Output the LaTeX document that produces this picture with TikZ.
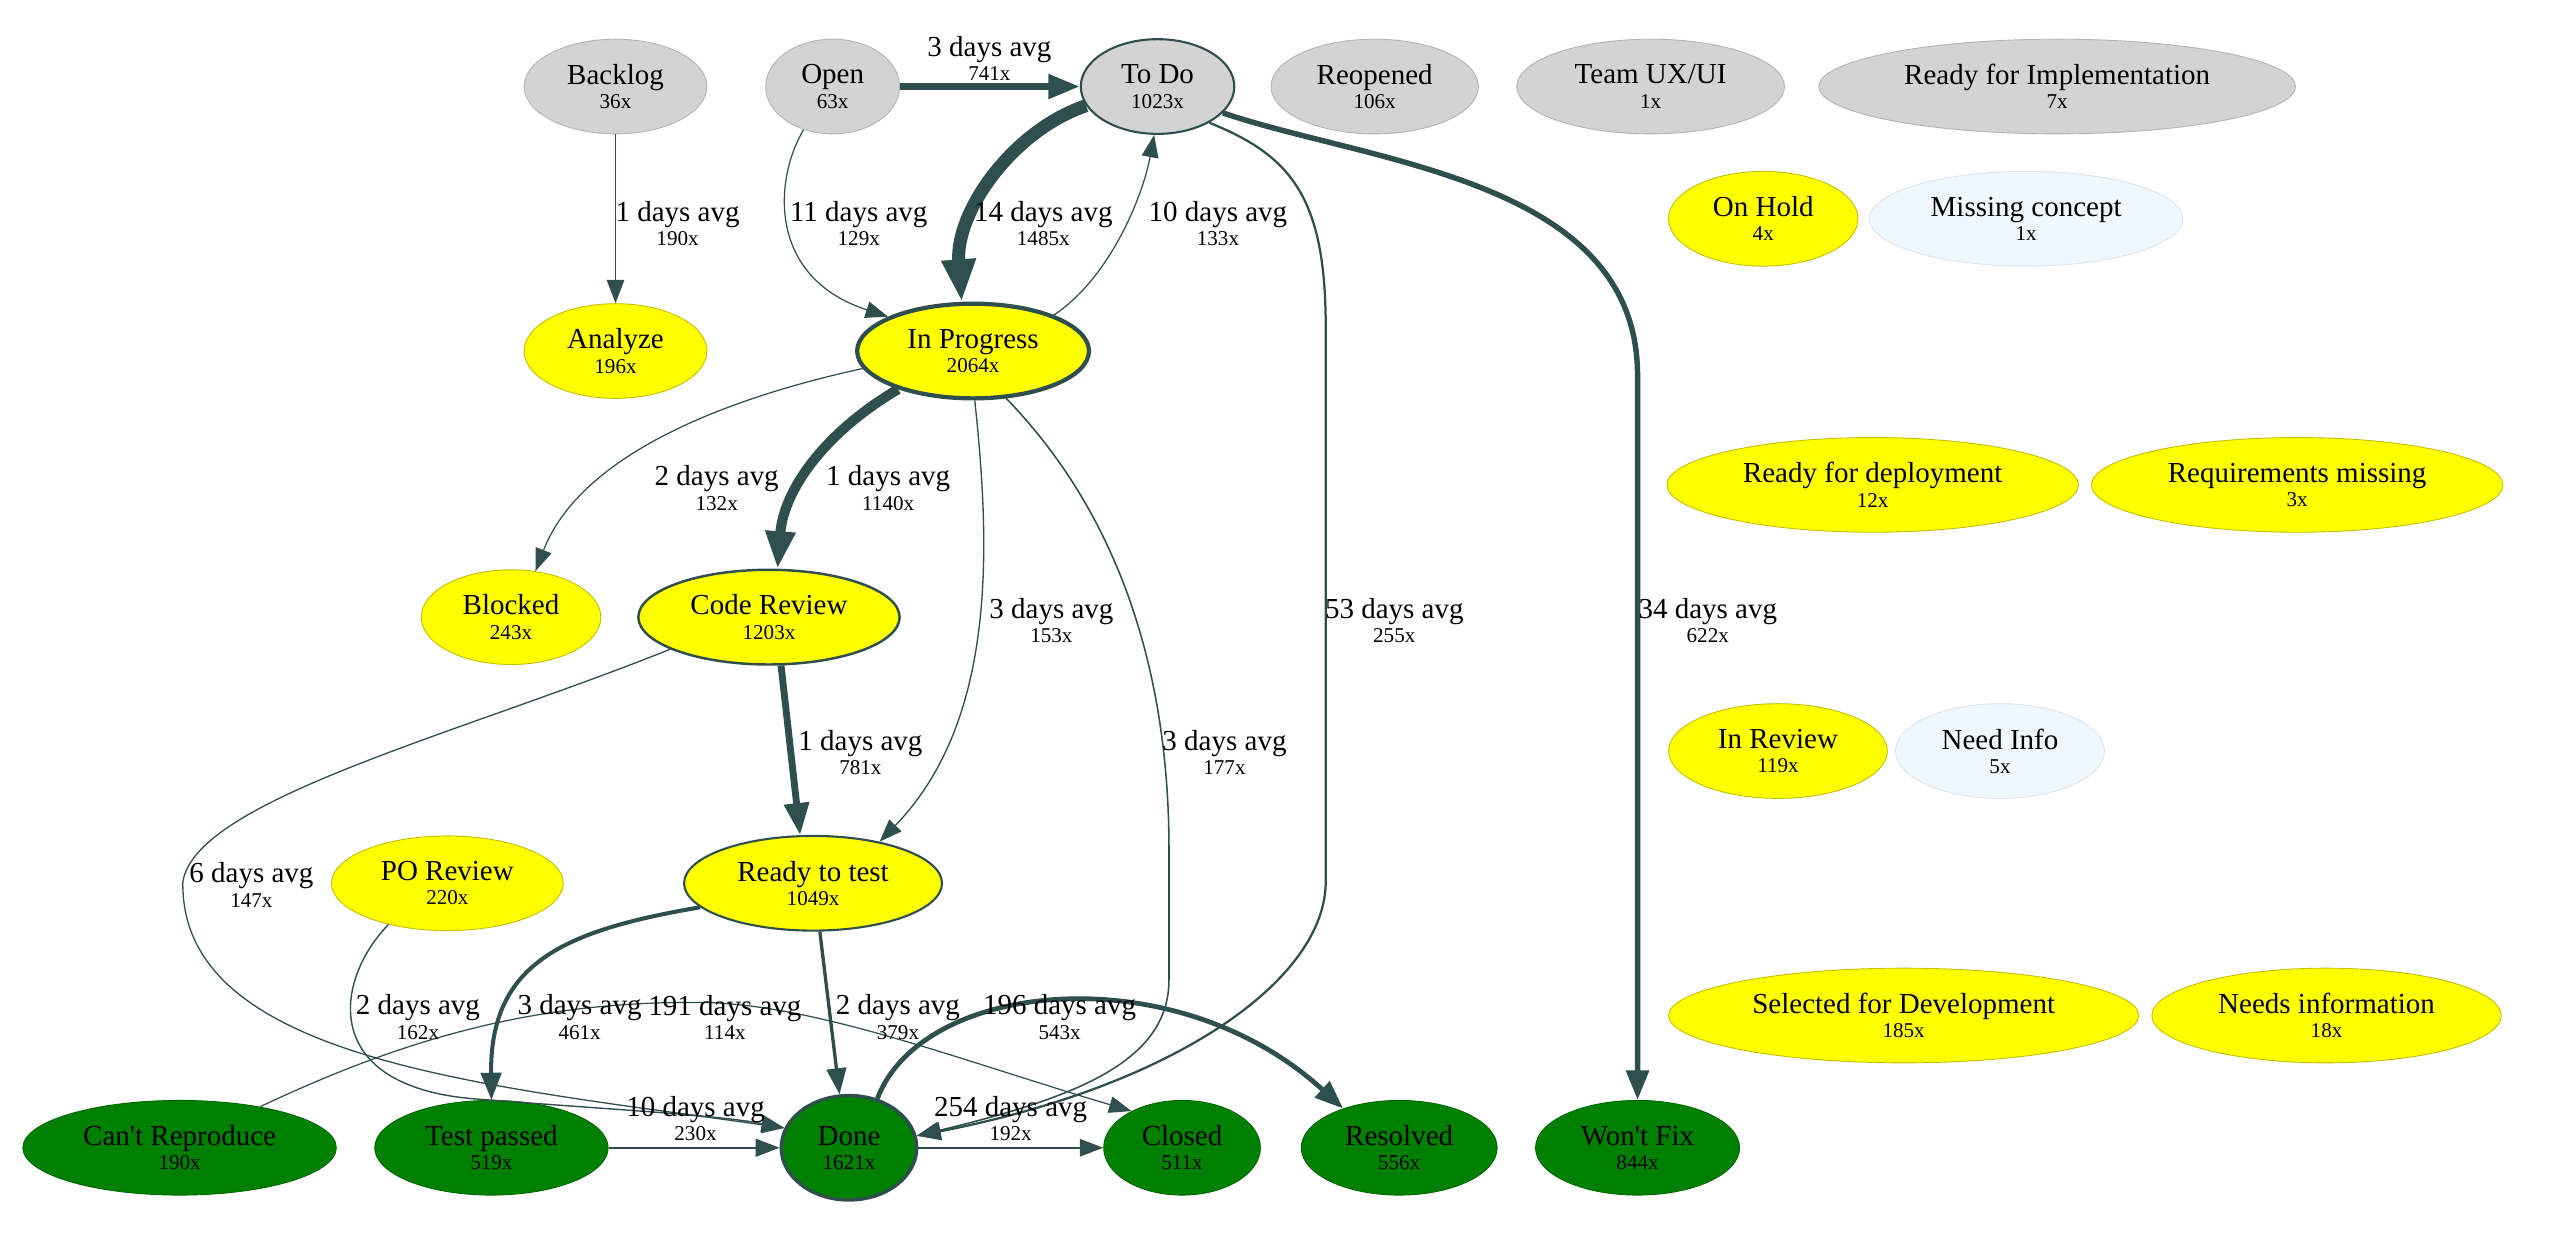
\documentclass[tikz,border=0pt]{standalone}
\usepackage{fontspec}
\setmainfont{Liberation Serif}
\newfontfamily\gvfont{Liberation Serif}
\usepackage{tikz}
\usetikzlibrary{shapes.geometric,arrows.meta}
\definecolor{gvgray}{HTML}{D3D3D3}
\definecolor{gvyellow}{HTML}{FFFF00}
\definecolor{gvgreen}{HTML}{008000}
\definecolor{gvblue}{HTML}{F0F8FF}
\definecolor{gvedge}{HTML}{2F4F4F}
\newlength{\upx}
\setlength{\upx}{0.16327mm}
\newcommand{\cnt}[1]{{\fontsize{6}{6.9}\selectfont #1}}
\tikzstyle{status} = [ellipse, inner sep=0pt, align=center, minimum height=58\upx, line width=0.25pt, font=\gvfont\fontsize{8.25}{6.9}\selectfont]
\tikzstyle{greynode} = [status, fill=gvgray, draw=gvgray!85!black]
\tikzstyle{yellownode} = [status, fill=gvyellow, draw=gvyellow!75!black]
\tikzstyle{bluenode} = [status, fill=gvblue, draw=gvblue!92!black]
\tikzstyle{greennode} = [status, fill=gvgreen, draw=gvgreen!80!black]
\tikzstyle{heavy} = [draw=gvedge]
\tikzstyle{elabel} = [inner sep=0pt, align=center, font=\gvfont\fontsize{8.25}{6.9}\selectfont]
\tikzstyle{flow} = [draw=gvedge, -{Triangle[length=5.8pt 1.7, width=4.3pt 1.3]}]

\begin{document}
\begin{tikzpicture}[x=0.16327mm,y=-0.16327mm]
  \useasboundingbox (0,0) rectangle (1568,760);
  % statuses
  \node [greynode, minimum width=112\upx] (backlog) at (377,53) {Backlog\\\cnt{36x}};
  \node [greynode, minimum width=82\upx] (open) at (510,53) {Open\\\cnt{63x}};
  \node [greynode, heavy, line width=0.6pt, minimum width=94\upx] (todo) at (709,53) {To Do\\\cnt{1023x}};
  \node [greynode, minimum width=127\upx] (reopened) at (842,53) {Reopened\\\cnt{106x}};
  \node [greynode, minimum width=164\upx] (teamux) at (1011,53) {Team UX/UI\\\cnt{1x}};
  \node [greynode, minimum width=292\upx] (readyimpl) at (1260,53) {Ready for Implementation\\\cnt{7x}};
  \node [yellownode, minimum width=116\upx] (onhold) at (1080,134) {On Hold\\\cnt{4x}};
  \node [bluenode, minimum width=192\upx] (missing) at (1241,134) {Missing concept\\\cnt{1x}};
  \node [yellownode, minimum width=112\upx] (analyze) at (377,215) {Analyze\\\cnt{196x}};
  \node [yellownode, heavy, line width=1.2pt, minimum width=142\upx] (inprogress) at (596,215) {In Progress\\\cnt{2064x}};
  \node [yellownode, minimum width=252\upx] (readydeploy) at (1147,297) {Ready for deployment\\\cnt{12x}};
  \node [yellownode, minimum width=252\upx] (reqmissing) at (1407,297) {Requirements missing\\\cnt{3x}};
  \node [yellownode, minimum width=110\upx] (blocked) at (313,378) {Blocked\\\cnt{243x}};
  \node [yellownode, heavy, line width=0.7pt, minimum width=160\upx] (codereview) at (471,378) {Code Review\\\cnt{1203x}};
  \node [yellownode, minimum width=134\upx] (inreview) at (1089,460) {In Review\\\cnt{119x}};
  \node [bluenode, minimum width=128\upx] (needinfo) at (1225,460) {Need Info\\\cnt{5x}};
  \node [yellownode, minimum width=142\upx] (poreview) at (274,541) {PO Review\\\cnt{220x}};
  \node [yellownode, heavy, line width=0.6pt, minimum width=158\upx] (readytotest) at (498,541) {Ready to test\\\cnt{1049x}};
  \node [yellownode, minimum width=288\upx] (selecteddev) at (1166,622) {Selected for Development\\\cnt{185x}};
  \node [yellownode, minimum width=214\upx] (needsinfo) at (1425,622) {Needs information\\\cnt{18x}};
  \node [greennode, minimum width=192\upx] (cantrepro) at (110,703) {Can't Reproduce\\\cnt{190x}};
  \node [greennode, minimum width=143\upx] (testpassed) at (301,703) {Test passed\\\cnt{519x}};
  \node [greennode, heavy, line width=0.95pt, minimum width=83\upx, minimum height=64\upx] (done) at (520,703) {Done\\\cnt{1621x}};
  \node [greennode, minimum width=96\upx] (closed) at (724,703) {Closed\\\cnt{511x}};
  \node [greennode, minimum width=120\upx] (resolved) at (857,703) {Resolved\\\cnt{556x}};
  \node [greennode, minimum width=125\upx] (wontfix) at (1003,703) {Won't Fix\\\cnt{844x}};

  % transitions
  \draw [flow, line width=1.85pt] (open) -- (todo);
  \draw [flow, line width=0.48pt] (backlog) -- (analyze);
  \draw [flow, line width=0.35pt] (open.236) .. controls (474,110) and (470,170) .. (inprogress.158);
  \draw [flow, line width=3.7pt] (todo.195) .. controls (620,80) and (585,130) .. (inprogress.103);
  \draw [flow, line width=0.35pt] (inprogress.24) .. controls (680,170) and (700,120) .. (todo.266);
  \draw [flow, line width=0.35pt] (inprogress.189) .. controls (440,245) and (355,280) .. (blocked.62);
  \draw [flow, line width=2.85pt] (inprogress.207) .. controls (505,265) and (480,300) .. (codereview.80);
  \draw [flow, line width=0.38pt] (inprogress.272) .. controls (606,330) and (612,440) .. (readytotest.32);
  \draw [flow, line width=0.44pt] (inprogress.305) .. controls (690,320) and (716,420) .. (716,520) -- (716,600) .. controls (716,650) and (660,672) .. (done.10);
  \draw [flow, line width=0.64pt] (todo.325) .. controls (790,95) and (812,120) .. (812,200) -- (812,540) .. controls (812,600) and (720,665) .. (done.10);
  \draw [flow, line width=1.55pt] (todo.338) .. controls (840,100) and (1003,110) .. (1003,230) -- (wontfix);
  \draw [flow, line width=1.95pt] (codereview.284) -- (readytotest.105);
  \draw [flow, line width=0.37pt] (codereview.198) .. controls (280,450) and (120,490) .. (112,540) .. controls (110,650) and (300,665) .. (done.163);
  \draw [flow, line width=0.4pt] (poreview.215) .. controls (205,600) and (195,665) .. (290,673) .. controls (380,680) and (440,683) .. (done.163);
  \draw [flow, line width=1.15pt] (readytotest.192) .. controls (345,570) and (300,590) .. (testpassed.north);
  \draw [flow, line width=0.95pt] (readytotest.278) -- (done.100);
  \draw [flow, line width=0.58pt] (testpassed) -- (done);
  \draw [flow, line width=0.48pt] (done) -- (closed);
  \draw [flow, line width=1.36pt] (done.60) .. controls (565,600) and (720,585) .. (resolved.145);
  \draw [flow, line width=0.35pt] (cantrepro.27) .. controls (250,635) and (330,613) .. (430,614) .. controls (500,615) and (590,650) .. (closed.144);

  % labels
  \node [elabel] (lbl-open-todo) at (606,36) {3 days avg\\\cnt{741x}};
  \node [elabel] (lbl-backlog-analyze) at (415,137) {1 days avg\\\cnt{190x}};
  \node [elabel] (lbl-open-inprogress) at (526,137) {11 days avg\\\cnt{129x}};
  \node [elabel] (lbl-todo-inprogress) at (639,137) {14 days avg\\\cnt{1485x}};
  \node [elabel] (lbl-inprogress-todo) at (746,137) {10 days avg\\\cnt{133x}};
  \node [elabel] (lbl-inprogress-blocked) at (439,299) {2 days avg\\\cnt{132x}};
  \node [elabel] (lbl-inprogress-codereview) at (544,299) {1 days avg\\\cnt{1140x}};
  \node [elabel] (lbl-inprogress-readytotest) at (644,380) {3 days avg\\\cnt{153x}};
  \node [elabel] (lbl-todo-done) at (854,380) {53 days avg\\\cnt{255x}};
  \node [elabel] (lbl-todo-wontfix) at (1046,380) {34 days avg\\\cnt{622x}};
  \node [elabel] (lbl-codereview-readytotest) at (527,461) {1 days avg\\\cnt{781x}};
  \node [elabel] (lbl-inprogress-done) at (750,461) {3 days avg\\\cnt{177x}};
  \node [elabel] (lbl-codereview-done) at (154,542) {6 days avg\\\cnt{147x}};
  \node [elabel] (lbl-poreview-done) at (256,623) {2 days avg\\\cnt{162x}};
  \node [elabel] (lbl-readytotest-testpassed) at (355,623) {3 days avg\\\cnt{461x}};
  \node [elabel] (lbl-cantrepro-closed) at (444,623) {191 days avg\\\cnt{114x}};
  \node [elabel] (lbl-readytotest-done) at (550,623) {2 days avg\\\cnt{379x}};
  \node [elabel] (lbl-done-resolved) at (649,623) {196 days avg\\\cnt{543x}};
  \node [elabel] (lbl-testpassed-done) at (426,685) {10 days avg\\\cnt{230x}};
  \node [elabel] (lbl-done-closed) at (619,685) {254 days avg\\\cnt{192x}};
\end{tikzpicture}
\end{document}
